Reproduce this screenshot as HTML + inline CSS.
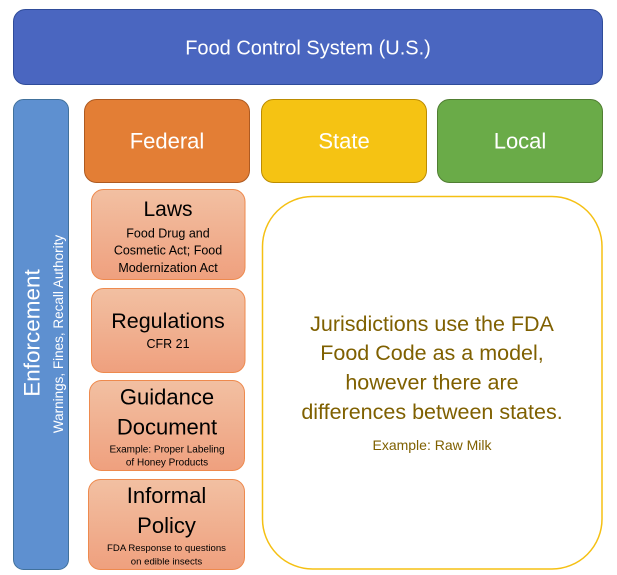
<!DOCTYPE html>
<html>
<head>
<meta charset="utf-8">
<style>
  html, body { margin: 0; padding: 0; background: #ffffff; }
  body { width: 617px; height: 575px; overflow: hidden; }
  svg { display: block; }
  text { font-family: "Liberation Sans", "DejaVu Sans", sans-serif; }
</style>
</head>
<body>
<svg width="617" height="575" viewBox="0 0 617 575" xmlns="http://www.w3.org/2000/svg">
  <defs>
    <linearGradient id="salmon" x1="0" y1="0" x2="0" y2="1">
      <stop offset="0" stop-color="#F2C0A2"/>
      <stop offset="1" stop-color="#EFA07E"/>
    </linearGradient>
  </defs>

  <!-- Banner -->
  <rect x="13.5" y="9.5" width="589" height="75" rx="12" ry="12" fill="#4A66C0" stroke="#2F4C9A" stroke-width="1"/>
  <text x="308" y="54.5" font-size="20" fill="#ffffff" text-anchor="middle">Food Control System (U.S.)</text>

  <!-- Enforcement bar -->
  <rect x="13.5" y="99.5" width="55" height="470" rx="10" ry="10" fill="#5E90D0" stroke="#41719C" stroke-width="1"/>
  <text transform="translate(39.5,333) rotate(-90)" font-size="22.5" fill="#ffffff" text-anchor="middle">Enforcement</text>
  <text transform="translate(63,334) rotate(-90)" font-size="13.5" fill="#ffffff" text-anchor="middle">Warnings, Fines, Recall Authority</text>

  <!-- Federal / State / Local -->
  <rect x="84.5" y="99.5" width="165" height="83" rx="12" ry="12" fill="#E37E35" stroke="#AE5A21" stroke-width="1"/>
  <text x="167" y="148.5" font-size="22" fill="#ffffff" text-anchor="middle">Federal</text>

  <rect x="261.5" y="99.5" width="165" height="83" rx="12" ry="12" fill="#F5C313" stroke="#BC8C00" stroke-width="1"/>
  <text x="344" y="148.5" font-size="22" fill="#ffffff" text-anchor="middle">State</text>

  <rect x="437.5" y="99.5" width="165" height="83" rx="12" ry="12" fill="#6AAB48" stroke="#507E32" stroke-width="1"/>
  <text x="520" y="148.5" font-size="22" fill="#ffffff" text-anchor="middle">Local</text>

  <!-- Laws -->
  <rect x="91.5" y="189.5" width="153.5" height="90" rx="12" ry="12" fill="url(#salmon)" stroke="#EE8A4E" stroke-width="1"/>
  <text x="168" y="216" font-size="21" fill="#000000" text-anchor="middle">Laws</text>
  <text x="168" y="237.5" font-size="12.5" fill="#000000" text-anchor="middle">Food Drug and</text>
  <text x="168" y="254.5" font-size="12.5" fill="#000000" text-anchor="middle">Cosmetic Act; Food</text>
  <text x="168" y="272" font-size="12.5" fill="#000000" text-anchor="middle">Modernization Act</text>

  <!-- Regulations -->
  <rect x="91.5" y="288.5" width="153.5" height="84" rx="12" ry="12" fill="url(#salmon)" stroke="#EE8A4E" stroke-width="1"/>
  <text x="168" y="328" font-size="21.5" fill="#000000" text-anchor="middle">Regulations</text>
  <text x="168" y="348" font-size="12.5" fill="#000000" text-anchor="middle">CFR 21</text>

  <!-- Guidance Document -->
  <rect x="89.5" y="380.5" width="155" height="90" rx="12" ry="12" fill="url(#salmon)" stroke="#EE8A4E" stroke-width="1"/>
  <text x="167" y="404.5" font-size="22" fill="#000000" text-anchor="middle">Guidance</text>
  <text x="167" y="434.5" font-size="22" fill="#000000" text-anchor="middle">Document</text>
  <text x="167" y="452.5" font-size="10" fill="#000000" text-anchor="middle">Example: Proper Labeling</text>
  <text x="167" y="465.5" font-size="10" fill="#000000" text-anchor="middle">of Honey Products</text>

  <!-- Informal Policy -->
  <rect x="88.5" y="479.5" width="156" height="90" rx="12" ry="12" fill="url(#salmon)" stroke="#EE8A4E" stroke-width="1"/>
  <text x="166.5" y="503" font-size="22" fill="#000000" text-anchor="middle">Informal</text>
  <text x="166.5" y="533" font-size="22" fill="#000000" text-anchor="middle">Policy</text>
  <text x="166.5" y="551" font-size="9.6" fill="#000000" text-anchor="middle">FDA Response to questions</text>
  <text x="166.5" y="564.5" font-size="9.6" fill="#000000" text-anchor="middle">on edible insects</text>

  <!-- Big jurisdiction box -->
  <rect x="262.5" y="196.5" width="339.5" height="372.5" rx="50" ry="50" fill="#ffffff" stroke="#F5C013" stroke-width="1.5"/>
  <text x="432" y="331" font-size="21.5" fill="#7F6000" text-anchor="middle">Jurisdictions use the FDA</text>
  <text x="432" y="360" font-size="21.5" fill="#7F6000" text-anchor="middle">Food Code as a model,</text>
  <text x="432" y="389.5" font-size="21.5" fill="#7F6000" text-anchor="middle">however there are</text>
  <text x="432" y="419" font-size="21.5" fill="#7F6000" text-anchor="middle">differences between states.</text>
  <text x="432" y="450" font-size="14" fill="#7F6000" text-anchor="middle">Example: Raw Milk</text>
</svg>
</body>
</html>
